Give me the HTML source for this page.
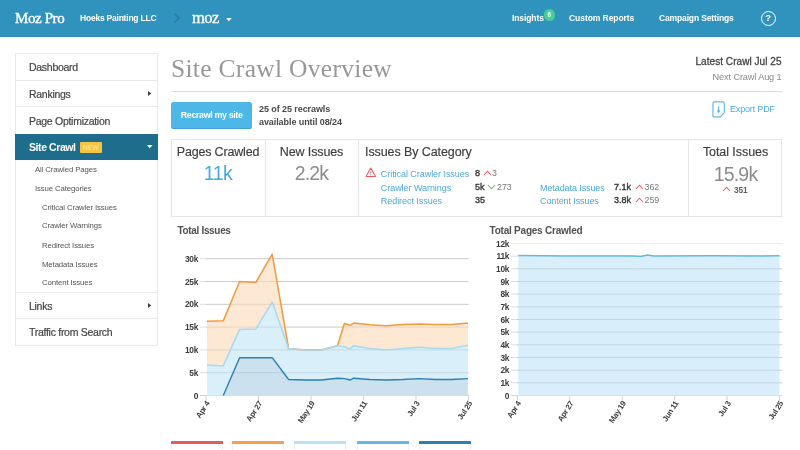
<!DOCTYPE html>
<html><head><meta charset="utf-8"><title>Site Crawl Overview</title>
<style>
*{box-sizing:border-box;margin:0;padding:0}
html,body{width:800px;height:450px;overflow:hidden;background:#fff}
body{position:relative;font-family:"Liberation Sans",sans-serif;color:#444}
.abs{position:absolute;white-space:nowrap;line-height:1}
#hdr{position:absolute;left:0;top:0;width:800px;height:37px;background:#2f93bd;border-bottom:1px solid #2d8db6}
#hdr .abs{color:#fff}
.serif{font-family:"Liberation Serif",serif}
.nav{font-size:8.5px;font-weight:bold;letter-spacing:-0.1px}
#side{position:absolute;left:15px;top:53px;width:143px;height:293px;border:1px solid #e8e8e8;background:#fff}
.si{position:absolute;left:0;width:141px;font-size:10.5px;color:#444;-webkit-text-stroke:0.2px #444;padding-left:13px;line-height:1;letter-spacing:-0.28px;white-space:nowrap}
.hr{position:absolute;left:0;width:141px;height:1px;background:#e8e8e8}
.sub{position:absolute;font-size:7.8px;color:#555;line-height:1;white-space:nowrap;letter-spacing:-0.12px}
.tri{position:absolute;width:0;height:0;border-style:solid}
.ax{font-family:"Liberation Sans",sans-serif;font-size:8.4px;fill:#3c3c3c;font-weight:bold;letter-spacing:-0.3px}
.axx{font-size:7.9px;letter-spacing:-0.38px}
.panel{position:absolute;left:171px;top:139px;width:611.3px;height:78px;border:1px solid #e4e4e4;background:#fff}
.vd{position:absolute;top:139px;width:1px;height:78px;background:#e4e4e4}
.h3{font-size:12.5px;color:#3c3c3c;letter-spacing:-0.12px;-webkit-text-stroke:0.15px #3c3c3c}
.big{font-size:19.5px}
.lnk{font-size:9px;color:#4aa9de;letter-spacing:-0.05px}
.val{font-size:9px;color:#333;-webkit-text-stroke:0.35px #333;letter-spacing:0px}
.dl{font-size:8.8px;color:#777;letter-spacing:0}
.ct{font-size:10px;font-weight:bold;color:#505050;letter-spacing:-0.3px}
.leg{position:absolute;top:441.2px;width:52px;height:12px;border:1px solid #efefef;border-top:none}
.leg i{position:absolute;left:-1px;top:0;width:52px;height:2.6px;border-radius:0.5px}
</style></head><body>
<div id="hdr">
 <div class="abs serif" style="left:15px;top:10.5px;font-size:15px;letter-spacing:-0.4px;-webkit-text-stroke:0.35px #fff">Moz Pro</div>
 <div class="abs nav" style="left:80px;top:14px;letter-spacing:-0.22px">Hoeks Painting LLC</div>
 <svg class="abs" style="left:172px;top:12px" width="10" height="12" viewBox="0 0 10 12"><path d="M2.5 1.5 L7 6 L2.5 10.5" fill="none" stroke="#2a7fa6" stroke-width="1.6"/></svg>
 <div class="abs serif" style="left:192px;top:9.5px;font-size:16.5px;letter-spacing:-0.6px;-webkit-text-stroke:0.3px #fff">moz</div>
 <svg class="abs" style="left:225.8px;top:17.8px" width="6" height="4" viewBox="0 0 6 4"><path d="M0 0 H5.8 L2.9 3.3 Z" fill="#fff"/></svg>
 <div class="abs nav" style="left:512px;top:14px">Insights</div>
 <div class="abs" style="left:543.5px;top:9px;width:11.5px;height:11.5px;border-radius:6px;background:#45cf97;font-size:6.5px;font-weight:bold;text-align:center;line-height:11.5px">6</div>
 <div class="abs nav" style="left:569px;top:14px;letter-spacing:-0.06px">Custom Reports</div>
 <div class="abs nav" style="left:659px;top:14px;letter-spacing:-0.14px">Campaign Settings</div>
 <div class="abs" style="left:760.6px;top:11px;width:15px;height:15px;border-radius:8px;border:1.5px solid #fff;font-size:9.5px;font-weight:bold;text-align:center;line-height:12px">?</div>
</div>

<div id="side">
 <div class="si" style="top:8px">Dashboard</div>
 <div class="hr" style="top:26px"></div>
 <div class="si" style="top:34.8px">Rankings</div>
 <svg class="abs" style="left:132px;top:37px" width="4" height="5" viewBox="0 0 4 5"><path d="M0 0 L3.2 2.5 L0 5 Z" fill="#3a3a3a"/></svg>
 <div class="hr" style="top:52.4px"></div>
 <div class="si" style="top:61.7px">Page Optimization</div>
 <div class="abs" style="top:80px;left:-1px;width:143px;height:26px;background:#1f6d8c"></div>
 <div class="si" style="top:87.7px;color:#fff;-webkit-text-stroke:0;font-weight:bold;letter-spacing:-0.42px">Site Crawl</div>
 <div class="abs" style="left:64px;top:87.5px;width:22px;height:11px;background:#f6c443;border-radius:1px;color:#fce9ae;font-size:6.5px;text-align:center;line-height:11.5px;letter-spacing:0.2px">NEW</div>
 <svg class="abs" style="left:130.9px;top:90.8px" width="7" height="4" viewBox="0 0 7 4"><path d="M0 0 H5.6 L2.8 3.3 Z" fill="#fff"/></svg>
 <div class="sub" style="left:19px;top:112px">All Crawled Pages</div>
 <div class="sub" style="left:19px;top:130.5px">Issue Categories</div>
 <div class="sub" style="left:26px;top:149.5px">Critical Crawler Issues</div>
 <div class="sub" style="left:26px;top:168px">Crawler Warnings</div>
 <div class="sub" style="left:26px;top:187.6px">Redirect Issues</div>
 <div class="sub" style="left:26px;top:206.6px">Metadata Issues</div>
 <div class="sub" style="left:26px;top:225px">Content Issues</div>
 <div class="hr" style="top:238px"></div>
 <div class="si" style="top:246.5px">Links</div>
 <svg class="abs" style="left:132px;top:249px" width="4" height="5" viewBox="0 0 4 5"><path d="M0 0 L3.2 2.5 L0 5 Z" fill="#3a3a3a"/></svg>
 <div class="hr" style="top:264px"></div>
 <div class="si" style="top:273px">Traffic from Search</div>
</div>

<div class="abs serif" style="left:171px;top:55.5px;font-size:25.5px;color:#979797;letter-spacing:0.3px">Site Crawl Overview</div>
<div class="abs" style="right:18.5px;top:57.3px;font-size:10px;color:#444;-webkit-text-stroke:0.3px #444;letter-spacing:0.05px">Latest Crawl Jul 25</div>
<div class="abs" style="right:18.5px;top:72.8px;font-size:9.2px;color:#8a8a8a;letter-spacing:-0.13px">Next Crawl Aug 1</div>
<div class="abs" style="left:171px;top:91px;width:611px;height:1px;background:#dcdcdc"></div>

<div class="abs" style="left:171px;top:102px;width:81.3px;height:27.2px;background:#4db7e8;border-bottom:1.5px solid #3fa4d6;border-radius:2.5px;color:#fff;font-size:9px;font-weight:bold;text-align:center;line-height:27.5px;letter-spacing:-0.42px">Recrawl my site</div>
<div class="abs" style="left:259px;top:102.5px;font-size:9px;font-weight:bold;color:#484848;line-height:13.2px;letter-spacing:-0.08px">25 of 25 recrawls<br>available until 08/24</div>

<svg class="abs" style="left:711.5px;top:101.2px" width="13.5" height="17" viewBox="0 0 13.5 17"><path d="M2.6 0.9 H10.6 Q12.3 0.9 12.3 2.6 V11.6 L8.3 15.9 H2.6 Q0.9 15.9 0.9 14.2 V2.6 Q0.9 0.9 2.6 0.9 Z" fill="none" stroke="#62b8e6" stroke-width="1.15" stroke-linejoin="round"/><path d="M6.6 5.3 V11.2 M5.2 9.4 L6.6 11.4 L8 9.4" fill="none" stroke="#62b8e6" stroke-width="1.1"/></svg>
<div class="abs" style="left:730px;top:104.6px;font-size:9px;color:#4cabe0;letter-spacing:-0.17px">Export PDF</div>

<div class="panel"></div>
<div class="vd" style="left:265px"></div>
<div class="vd" style="left:357.5px"></div>
<div class="vd" style="left:688px"></div>

<div class="abs h3" style="left:171px;width:94px;text-align:center;top:146px;letter-spacing:-0.17px">Pages Crawled</div>
<div class="abs big" style="left:171px;width:94px;text-align:center;top:164px;color:#47a9e0;letter-spacing:-0.5px">11k</div>
<div class="abs h3" style="left:266px;width:91px;text-align:center;top:146px">New Issues</div>
<div class="abs big" style="left:266px;width:91px;text-align:center;top:164px;color:#8c8c8c;letter-spacing:-0.9px">2.2k</div>
<div class="abs h3" style="left:365px;top:146.4px;letter-spacing:-0.09px">Issues By Category</div>

<svg class="abs" style="left:365px;top:167px" width="11.5" height="10.5" viewBox="0 0 11 10"><path d="M5.5 1 L10 9 H1 Z" fill="none" stroke="#e8585a" stroke-width="1" stroke-linejoin="round"/><path d="M5.5 4 V6.3 M5.5 7.2 V8" stroke="#e8585a" stroke-width="0.9"/></svg>
<div class="abs lnk" style="left:380.8px;top:169.5px">Critical Crawler Issues</div>
<div class="abs lnk" style="left:380.8px;top:183.7px">Crawler Warnings</div>
<div class="abs lnk" style="left:380.8px;top:196.7px">Redirect Issues</div>
<div class="abs val" style="left:475px;top:169px">8</div>
<div class="abs val" style="left:475px;top:182.8px">5k</div>
<div class="abs val" style="left:475px;top:195.8px">35</div>
<svg class="abs" style="left:483px;top:170px" width="9" height="6" viewBox="0 0 9 6"><path d="M1 5 L4.5 1.2 L8 5" fill="none" stroke="#ee5b5b" stroke-width="1.1"/></svg>
<div class="abs dl" style="left:492px;top:169px">3</div>
<svg class="abs" style="left:487px;top:184px" width="9" height="6" viewBox="0 0 9 6"><path d="M1 1 L4.5 4.8 L8 1" fill="none" stroke="#5cc16a" stroke-width="1.1"/></svg>
<div class="abs dl" style="left:497px;top:182.8px">273</div>

<div class="abs lnk" style="left:540px;top:183.5px;letter-spacing:-0.09px">Metadata Issues</div>
<div class="abs lnk" style="left:540px;top:196.5px;letter-spacing:-0.09px">Content Issues</div>
<div class="abs val" style="left:614px;top:182.7px">7.1k</div>
<div class="abs val" style="left:614px;top:195.7px">3.8k</div>
<svg class="abs" style="left:635px;top:183.8px" width="9" height="6" viewBox="0 0 9 6"><path d="M1 5 L4.5 1.2 L8 5" fill="none" stroke="#ee5b5b" stroke-width="1.1"/></svg>
<div class="abs dl" style="left:644.5px;top:182.7px">362</div>
<svg class="abs" style="left:635px;top:196.8px" width="9" height="6" viewBox="0 0 9 6"><path d="M1 5 L4.5 1.2 L8 5" fill="none" stroke="#ee5b5b" stroke-width="1.1"/></svg>
<div class="abs dl" style="left:644.5px;top:195.7px">259</div>

<div class="abs h3" style="left:689px;width:93px;text-align:center;top:146px;letter-spacing:-0.07px">Total Issues</div>
<div class="abs big" style="left:689px;width:93px;text-align:center;top:164.7px;color:#8c8c8c;letter-spacing:-0.8px">15.9k</div>
<svg class="abs" style="left:722px;top:185.8px" width="9" height="6" viewBox="0 0 9 6"><path d="M1 5 L4.5 1.2 L8 5" fill="none" stroke="#ee5b5b" stroke-width="1.1"/></svg>
<div class="abs" style="left:734px;top:186.3px;font-size:8.3px;color:#606060;font-weight:bold;letter-spacing:-0.1px">351</div>

<div class="abs ct" style="left:177.5px;top:225.7px;letter-spacing:-0.33px">Total Issues</div>
<div class="abs ct" style="left:489.5px;top:225.7px;letter-spacing:-0.22px">Total Pages Crawled</div>
<svg width="800" height="450" style="position:absolute;left:0;top:0">
<line x1="200" x2="469" y1="395.5" y2="395.5" stroke="#d4d4d4" stroke-width="1"/>
<line x1="200" x2="469" y1="372.7" y2="372.7" stroke="#dedede" stroke-width="1"/>
<line x1="200" x2="469" y1="349.9" y2="349.9" stroke="#dedede" stroke-width="1"/>
<line x1="200" x2="469" y1="327.1" y2="327.1" stroke="#dedede" stroke-width="1"/>
<line x1="200" x2="469" y1="304.3" y2="304.3" stroke="#dedede" stroke-width="1"/>
<line x1="200" x2="469" y1="281.5" y2="281.5" stroke="#dedede" stroke-width="1"/>
<line x1="200" x2="469" y1="258.7" y2="258.7" stroke="#dedede" stroke-width="1"/>
<path d="M207.0,321.2 L223.3,320.7 L239.6,281.5 L255.9,282.4 L272.2,254.1 L288.6,348.5 L304.9,349.9 L321.2,349.9 L337.5,345.8 L344.4,323.5 L350.2,325.3 L353.5,323.0 L370.1,324.8 L386.4,325.7 L402.8,324.4 L419.1,323.9 L435.4,324.4 L451.7,324.4 L468.0,323.0 L468.0,345.3 L451.7,348.5 L435.4,348.5 L419.1,347.2 L402.8,348.5 L386.4,349.9 L370.1,348.5 L353.5,345.8 L350.2,349.0 L344.4,346.7 L337.5,345.8 L321.2,349.9 L304.9,349.9 L288.6,348.5 L272.2,302.0 L255.9,328.9 L239.6,329.4 L223.3,365.9 L207.0,364.9 Z" fill="#fde8d3"/>
<path d="M207.0,364.9 L223.3,365.9 L239.6,329.4 L255.9,328.9 L272.2,302.0 L288.6,348.5 L304.9,349.9 L321.2,349.9 L337.5,345.8 L344.4,346.7 L350.2,349.0 L353.5,345.8 L370.1,348.5 L386.4,349.9 L402.8,348.5 L419.1,347.2 L435.4,348.5 L451.7,348.5 L468.0,345.3 L468.0,395.5 L207.0,395.5 Z" fill="#d9effa"/>
<path d="M207.0,395.5 L223.3,395.5 L239.6,357.7 L255.9,357.7 L272.2,357.7 L288.6,379.5 L304.9,380.0 L321.2,380.0 L337.5,378.2 L344.4,378.6 L350.2,380.0 L353.5,378.2 L370.1,379.5 L386.4,380.0 L402.8,379.5 L419.1,378.6 L435.4,379.5 L451.7,379.5 L468.0,378.6 L468.0,395.5 L207.0,395.5 Z" fill="#cbe1ee"/>
<line x1="206" x2="468" y1="372.7" y2="372.7" stroke="#000" stroke-opacity="0.09" stroke-width="1"/>
<line x1="206" x2="468" y1="349.9" y2="349.9" stroke="#000" stroke-opacity="0.09" stroke-width="1"/>
<line x1="206" x2="468" y1="327.1" y2="327.1" stroke="#000" stroke-opacity="0.09" stroke-width="1"/>
<line x1="206" x2="468" y1="304.3" y2="304.3" stroke="#000" stroke-opacity="0.09" stroke-width="1"/>
<line x1="206" x2="468" y1="281.5" y2="281.5" stroke="#000" stroke-opacity="0.09" stroke-width="1"/>
<line x1="206" x2="468" y1="258.7" y2="258.7" stroke="#000" stroke-opacity="0.09" stroke-width="1"/>
<path d="M207.0,321.2 L223.3,320.7 L239.6,281.5 L255.9,282.4 L272.2,254.1 L288.6,348.5 L304.9,349.9 L321.2,349.9 L337.5,345.8 L344.4,323.5 L350.2,325.3 L353.5,323.0 L370.1,324.8 L386.4,325.7 L402.8,324.4 L419.1,323.9 L435.4,324.4 L451.7,324.4 L468.0,323.0" fill="none" stroke="#f29a3f" stroke-width="1.5" stroke-linejoin="round"/>
<path d="M207.0,364.9 L223.3,365.9 L239.6,329.4 L255.9,328.9 L272.2,302.0 L288.6,348.5 L304.9,349.9 L321.2,349.9 L337.5,345.8 L344.4,346.7 L350.2,349.0 L353.5,345.8 L370.1,348.5 L386.4,349.9 L402.8,348.5 L419.1,347.2 L435.4,348.5 L451.7,348.5 L468.0,345.3" fill="none" stroke="#a9d9f0" stroke-width="1.5" stroke-linejoin="round"/>
<path d="M223.3,395.5 L239.6,357.7 L255.9,357.7 L272.2,357.7 L288.6,379.5 L304.9,380.0 L321.2,380.0 L337.5,378.2 L344.4,378.6 L350.2,380.0 L353.5,378.2 L370.1,379.5 L386.4,380.0 L402.8,379.5 L419.1,378.6 L435.4,379.5 L451.7,379.5 L468.0,378.6" fill="none" stroke="#2a80ae" stroke-width="1.4" stroke-linejoin="round"/>
<text x="198" y="398.5" text-anchor="end" class="ax">0</text>
<text x="198" y="375.7" text-anchor="end" class="ax">5k</text>
<text x="198" y="352.9" text-anchor="end" class="ax">10k</text>
<text x="198" y="330.1" text-anchor="end" class="ax">15k</text>
<text x="198" y="307.3" text-anchor="end" class="ax">20k</text>
<text x="198" y="284.5" text-anchor="end" class="ax">25k</text>
<text x="198" y="261.7" text-anchor="end" class="ax">30k</text>
<line x1="206.0" x2="206.0" y1="396" y2="400.5" stroke="#d0d0d0"/>
<text transform="translate(210.0,403.5) rotate(-57)" text-anchor="end" class="ax axx">Apr 4</text>
<line x1="258.5" x2="258.5" y1="396" y2="400.5" stroke="#d0d0d0"/>
<text transform="translate(262.5,403.5) rotate(-57)" text-anchor="end" class="ax axx">Apr 27</text>
<line x1="311.0" x2="311.0" y1="396" y2="400.5" stroke="#d0d0d0"/>
<text transform="translate(315.0,403.5) rotate(-57)" text-anchor="end" class="ax axx">May 19</text>
<line x1="363.5" x2="363.5" y1="396" y2="400.5" stroke="#d0d0d0"/>
<text transform="translate(367.5,403.5) rotate(-57)" text-anchor="end" class="ax axx">Jun 11</text>
<line x1="416.0" x2="416.0" y1="396" y2="400.5" stroke="#d0d0d0"/>
<text transform="translate(420.0,403.5) rotate(-57)" text-anchor="end" class="ax axx">Jul 3</text>
<line x1="468.5" x2="468.5" y1="396" y2="400.5" stroke="#d0d0d0"/>
<text transform="translate(472.5,403.5) rotate(-57)" text-anchor="end" class="ax axx">Jul 25</text>
<line x1="511" x2="782" y1="395.5" y2="395.5" stroke="#d4d4d4" stroke-width="1"/>
<line x1="511" x2="782" y1="382.8" y2="382.8" stroke="#dedede" stroke-width="1"/>
<line x1="511" x2="782" y1="370.2" y2="370.2" stroke="#dedede" stroke-width="1"/>
<line x1="511" x2="782" y1="357.5" y2="357.5" stroke="#dedede" stroke-width="1"/>
<line x1="511" x2="782" y1="344.8" y2="344.8" stroke="#dedede" stroke-width="1"/>
<line x1="511" x2="782" y1="332.1" y2="332.1" stroke="#dedede" stroke-width="1"/>
<line x1="511" x2="782" y1="319.5" y2="319.5" stroke="#dedede" stroke-width="1"/>
<line x1="511" x2="782" y1="306.8" y2="306.8" stroke="#dedede" stroke-width="1"/>
<line x1="511" x2="782" y1="294.1" y2="294.1" stroke="#dedede" stroke-width="1"/>
<line x1="511" x2="782" y1="281.5" y2="281.5" stroke="#dedede" stroke-width="1"/>
<line x1="511" x2="782" y1="268.8" y2="268.8" stroke="#dedede" stroke-width="1"/>
<line x1="511" x2="782" y1="256.1" y2="256.1" stroke="#dedede" stroke-width="1"/>
<line x1="511" x2="782" y1="243.5" y2="243.5" stroke="#f1ece4" stroke-width="1"/>
<path d="M518.3,255.5 L567.3,255.9 L583.6,256.1 L632.6,255.9 L640.7,256.4 L647.3,254.9 L653.8,255.9 L714.2,255.7 L755.0,256.1 L779.5,255.7 L779.5,395.5 L518.3,395.5 Z" fill="#d8eefa"/>
<line x1="517" x2="782" y1="382.8" y2="382.8" stroke="#000" stroke-opacity="0.10" stroke-width="1"/>
<line x1="517" x2="782" y1="370.2" y2="370.2" stroke="#000" stroke-opacity="0.10" stroke-width="1"/>
<line x1="517" x2="782" y1="357.5" y2="357.5" stroke="#000" stroke-opacity="0.10" stroke-width="1"/>
<line x1="517" x2="782" y1="344.8" y2="344.8" stroke="#000" stroke-opacity="0.10" stroke-width="1"/>
<line x1="517" x2="782" y1="332.1" y2="332.1" stroke="#000" stroke-opacity="0.10" stroke-width="1"/>
<line x1="517" x2="782" y1="319.5" y2="319.5" stroke="#000" stroke-opacity="0.10" stroke-width="1"/>
<line x1="517" x2="782" y1="306.8" y2="306.8" stroke="#000" stroke-opacity="0.10" stroke-width="1"/>
<line x1="517" x2="782" y1="294.1" y2="294.1" stroke="#000" stroke-opacity="0.10" stroke-width="1"/>
<line x1="517" x2="782" y1="281.5" y2="281.5" stroke="#000" stroke-opacity="0.10" stroke-width="1"/>
<line x1="517" x2="782" y1="268.8" y2="268.8" stroke="#000" stroke-opacity="0.10" stroke-width="1"/>
<path d="M518.3,255.5 L567.3,255.9 L583.6,256.1 L632.6,255.9 L640.7,256.4 L647.3,254.9 L653.8,255.9 L714.2,255.7 L755.0,256.1 L779.5,255.7" fill="none" stroke="#64b8e1" stroke-width="1.5"/>
<text x="509.2" y="398.5" text-anchor="end" class="ax">0</text>
<text x="509.2" y="385.8" text-anchor="end" class="ax">1k</text>
<text x="509.2" y="373.2" text-anchor="end" class="ax">2k</text>
<text x="509.2" y="360.5" text-anchor="end" class="ax">3k</text>
<text x="509.2" y="347.8" text-anchor="end" class="ax">4k</text>
<text x="509.2" y="335.1" text-anchor="end" class="ax">5k</text>
<text x="509.2" y="322.5" text-anchor="end" class="ax">6k</text>
<text x="509.2" y="309.8" text-anchor="end" class="ax">7k</text>
<text x="509.2" y="297.1" text-anchor="end" class="ax">8k</text>
<text x="509.2" y="284.5" text-anchor="end" class="ax">9k</text>
<text x="509.2" y="271.8" text-anchor="end" class="ax">10k</text>
<text x="509.2" y="259.1" text-anchor="end" class="ax">11k</text>
<text x="509.2" y="246.5" text-anchor="end" class="ax">12k</text>
<line x1="517.3" x2="517.3" y1="396" y2="400.5" stroke="#d0d0d0"/>
<text transform="translate(521.3,403.5) rotate(-57)" text-anchor="end" class="ax axx">Apr 4</text>
<line x1="569.8" x2="569.8" y1="396" y2="400.5" stroke="#d0d0d0"/>
<text transform="translate(573.8,403.5) rotate(-57)" text-anchor="end" class="ax axx">Apr 27</text>
<line x1="622.2" x2="622.2" y1="396" y2="400.5" stroke="#d0d0d0"/>
<text transform="translate(626.2,403.5) rotate(-57)" text-anchor="end" class="ax axx">May 19</text>
<line x1="674.6" x2="674.6" y1="396" y2="400.5" stroke="#d0d0d0"/>
<text transform="translate(678.6,403.5) rotate(-57)" text-anchor="end" class="ax axx">Jun 11</text>
<line x1="727.1" x2="727.1" y1="396" y2="400.5" stroke="#d0d0d0"/>
<text transform="translate(731.1,403.5) rotate(-57)" text-anchor="end" class="ax axx">Jul 3</text>
<line x1="779.5" x2="779.5" y1="396" y2="400.5" stroke="#d0d0d0"/>
<text transform="translate(783.5,403.5) rotate(-57)" text-anchor="end" class="ax axx">Jul 25</text>
</svg>
<div class="leg" style="left:170.9px"><i style="background:#e8595c"></i></div>
<div class="leg" style="left:232.4px"><i style="background:#f4a148"></i></div>
<div class="leg" style="left:294.4px"><i style="background:#b9e0f4"></i></div>
<div class="leg" style="left:356.5px"><i style="background:#62b7e3"></i></div>
<div class="leg" style="left:418.8px"><i style="background:#2a80b0"></i></div>
</body></html>
